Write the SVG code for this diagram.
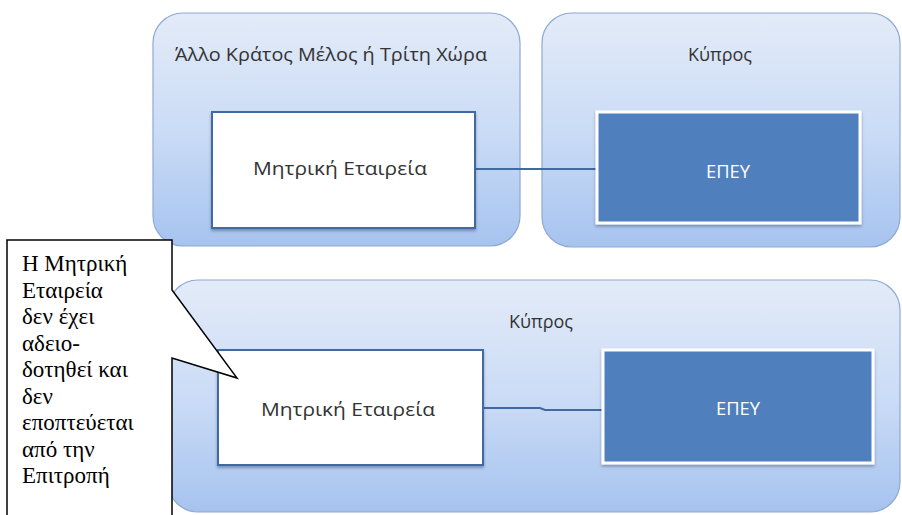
<svg xmlns="http://www.w3.org/2000/svg" width="902" height="515" viewBox="0 0 902 515">
<defs>
<linearGradient id="cg" x1="0" y1="0" x2="0" y2="1">
<stop offset="0" stop-color="#e3ebf8"/>
<stop offset="0.5" stop-color="#cbdcf6"/>
<stop offset="1" stop-color="#a6c3ef"/>
</linearGradient>
<filter id="sh" x="-10%" y="-10%" width="120%" height="130%">
<feDropShadow dx="0" dy="2" stdDeviation="1.5" flood-color="#000" flood-opacity="0.3"/>
</filter>
<style>
.cont{fill:url(#cg);stroke:#8fa9d2;stroke-width:1.2}
.wbox{fill:#ffffff;stroke:#3f6aa3;stroke-width:2}
.bbox{fill:#4f80bd;stroke:#ffffff;stroke-width:3;filter:url(#sh)}
.lbl{font-family:"Open Sans","Noto Sans",sans-serif;fill:#333333;text-anchor:middle}
.wl{font-family:"Open Sans","Noto Sans",sans-serif;fill:#ffffff;text-anchor:middle}
.conn{stroke:#3f6aa3;stroke-width:2;fill:none}
.cal{fill:#ffffff;stroke:#000000;stroke-width:1.5}
.ct{font-family:"Liberation Serif","Times New Roman",serif;font-size:23px;fill:#000}
</style>
</defs>
<g id="container-other">
<rect class="cont" x="153" y="13" width="367" height="233" rx="30"/>
<text class="lbl" x="331" y="61" font-size="18" textLength="312" lengthAdjust="spacingAndGlyphs">Άλλο Κράτος Μέλος ή Τρίτη Χώρα</text>
</g>
<g id="container-cy-top">
<rect class="cont" x="542" y="13" width="358" height="234" rx="30"/>
<text class="lbl" x="720" y="61" font-size="18" textLength="64" lengthAdjust="spacingAndGlyphs">Κύπρος</text>
</g>
<g id="container-cy-bottom">
<rect class="cont" x="168" y="280" width="732" height="232" rx="30"/>
<text class="lbl" x="541" y="328" font-size="18" textLength="64" lengthAdjust="spacingAndGlyphs">Κύπρος</text>
</g>
<g id="connectors">
<line class="conn" x1="475" y1="169" x2="598" y2="169"/>
<polyline class="conn" points="483,408 540,408 545,410 603,410"/>
</g>
<g id="parent-top">
<rect class="wbox" x="212" y="112" width="263" height="116" filter="url(#sh)"/>
<text class="lbl" x="340" y="175" font-size="18" textLength="174" lengthAdjust="spacingAndGlyphs">Μητρική Εταιρεία</text>
</g>
<g id="epey-top">
<rect class="bbox" x="597" y="112" width="263" height="111"/>
<text class="wl" x="728" y="178" font-size="18" textLength="44" lengthAdjust="spacingAndGlyphs">ΕΠΕΥ</text>
</g>
<g id="parent-bottom">
<rect class="wbox" x="218" y="350" width="265" height="115" filter="url(#sh)"/>
<text class="lbl" x="348" y="416" font-size="18" textLength="174" lengthAdjust="spacingAndGlyphs">Μητρική Εταιρεία</text>
</g>
<g id="epey-bottom">
<rect class="bbox" x="603" y="350" width="270" height="113"/>
<text class="wl" x="738" y="415" font-size="18" textLength="44" lengthAdjust="spacingAndGlyphs">ΕΠΕΥ</text>
</g>
<g id="callout">
<polygon class="cal" points="7,240 172,240 172,290 237,378 172,358 172,520 7,520"/>
<text class="ct" x="22" y="271">Η Μητρική</text>
<text class="ct" x="22" y="297.5">Εταιρεία</text>
<text class="ct" x="22" y="324">δεν έχει</text>
<text class="ct" x="22" y="350.5">αδειο-</text>
<text class="ct" x="22" y="377">δοτηθεί και</text>
<text class="ct" x="22" y="403.5">δεν</text>
<text class="ct" x="22" y="430">εποπτεύεται</text>
<text class="ct" x="22" y="456.5">από την</text>
<text class="ct" x="22" y="483">Επιτροπή</text>
</g>
</svg>
